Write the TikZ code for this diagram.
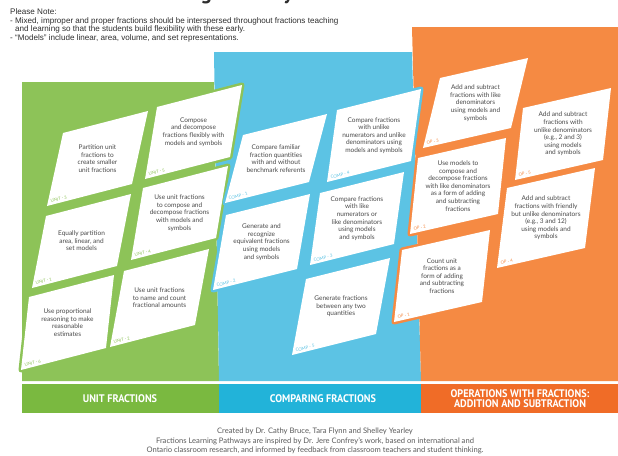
\documentclass[tikz,border=0pt]{standalone}
\usepackage{fontspec}
\setmainfont{Lato}
\newfontfamily\headfont{Liberation Sans}
\newfontfamily\titlefont{PT Sans}
\newfontfamily\barfont[FakeStretch=0.93]{PT Sans}
\usetikzlibrary{calc}
\definecolor{cUnit}{HTML}{8DC358}
\definecolor{cUnitBar}{HTML}{7AB940}
\definecolor{cComp}{HTML}{5CC3E4}
\definecolor{cCompBar}{HTML}{22B3D9}
\definecolor{cOper}{HTML}{F58A43}
\definecolor{cOperBar}{HTML}{F06C27}
\definecolor{cInk}{HTML}{4A4A4A}
\definecolor{cHead}{HTML}{2E2E2E}
\definecolor{cFoot}{HTML}{5A5A5A}

\begin{document}
\begin{tikzpicture}[x=1pt,y=-1pt]
  \tikzset{
    panel/.style={fill=#1},
    card/.style={fill=white, preaction={draw=#1, line width=5pt, line join=round}},
    txt/.style={align=center, inner sep=0pt, text=cInk, font=\fontsize{6.5}{7.6}\selectfont},
    tag/.style={anchor=south west, rotate=14, inner sep=0pt, text=#1, font=\fontsize{4.3}{5}\selectfont},
    barlbl/.style={align=center, text=white, inner sep=0pt, font=\barfont\bfseries\fontsize{11}{10}\selectfont},
  }
  \useasboundingbox (0,0) rectangle (618,455);
  % title, cut off by the top edge
  \node[anchor=base west, inner sep=0pt, text=cHead, font=\titlefont\bfseries\fontsize{21}{21}\selectfont]
    (title) at (46,-0.5) {Fractions Learning Pathways};
  % note
  \node[anchor=north west, align=left, inner sep=0pt, text=cHead, font=\headfont\fontsize{8.1}{8.7}\selectfont]
    (note) at (10,8.5) {Please Note:\\- Mixed, improper and proper fractions should be interspersed throughout fractions teaching\\\hspace{5pt}and learning so that the students build flexibility with these early.\\- “Models” include linear, area, volume, and set representations.};
  % panels
  \fill[panel=cUnit] (22,82) -- (214,82) -- (219,381) -- (22,381) -- cycle;
  \fill[panel=cComp] (214,52) -- (412,52) -- (421,381) -- (219,381) -- cycle;
  \fill[panel=cOper] (412,27) -- (618,27) -- (618,381) -- (421,381) -- cycle;
  % unit fractions
  \begin{scope}
    \foreach \n/\x/\y/\hx/\hy/\l/\t in {
      1/63/133/-16/73/3/{Partition unit\\fractions to\\create smaller\\unit fractions},
      2/157/107/-12/72/5/{Compose\\and decompose\\fractions flexibly with\\models and symbols},
      3/46/216/-14/72/1/{Equally partition\\area, linear, and\\set models},
      4/143/188/-12/72/4/{Use unit fractions\\to compose and\\decompose fractions\\with models and\\symbols},
      5/29/297/-8/73/6/{Use proportional\\reasoning to make\\reasonable\\estimates},
      6/124/271/-14/76/2/{Use unit fractions\\to name and count\\fractional amounts}} {
      \fill[card=cUnit] (\x,\y) -- ++(85,-22) -- ++(\hx,\hy) -- (\x+\hx,\y+\hy) -- cycle;
      \node[txt] (u\n) at (\x+42.5+\hx/2,\y-11+\hy/2) {\t};
      \node[tag=cUnit] (u\n tag) at (\x+\hx+4,\y+\hy-3) {UNIT - \l};
    }
  \end{scope}
  % comparing fractions
  \begin{scope}
    \foreach \n/\x/\y/\hx/\hy/\l/\t in {
      1/243/135/-18/68/1/{Compare familiar\\fraction quantities\\with and without\\benchmark referents},
      2/337/110/-10/72/4/{Compare fractions\\with unlike\\numerators and unlike\\denominators using\\models and symbols},
      3/226/215/-13/75/2/{Generate and\\recognize\\equivalent fractions\\using models\\and symbols},
      4/320/193/-10/72/3/{Compare fractions\\with like\\numerators or\\like denominators\\using models\\and symbols},
      5/306/279/-14/76/5/{Generate fractions\\between any two\\quantities}} {
      \fill[card=cComp] (\x,\y) -- ++(84,-21) -- ++(\hx,\hy) -- (\x+\hx,\y+\hy) -- cycle;
      \node[txt] (c\n) at (\x+42+\hx/2,\y-10.5+\hy/2) {\t};
      \node[tag=cComp] (c\n tag) at (\x+\hx+4,\y+\hy-3) {COMP - \l};
    }
  \end{scope}
  % operations with fractions
  \begin{scope}
    \foreach \n/\x/\y/\hx/\hy/\l/\t in {
      3/440/78/-17/70/3/{Add and subtract\\fractions with like\\denominators\\using models and\\symbols},
      5/523/108/-8/72/5/{Add and subtract\\fractions with\\unlike denominators\\(e.g., 2 and 3)\\using models\\and symbols},
      2/418/158/-8/76/2/{Use models to\\compose and\\decompose fractions\\with like denominators\\as a form of adding\\and subtracting\\fractions},
      4/507/188/-10/80/4/{Add and subtract\\fractions with friendly\\but unlike denominators\\(e.g., 3 and 12)\\using models and\\symbols},
      1/402/250/-8/72/1/{Count unit\\fractions as a\\form of adding\\and subtracting\\fractions}} {
      \fill[card=cOper] (\x,\y) -- ++(88,-20) -- ++(\hx,\hy) -- (\x+\hx,\y+\hy) -- cycle;
      \node[txt] (o\n) at (\x+44+\hx/2,\y-10+\hy/2) {\t};
      \node[tag=cOper] (o\n tag) at (\x+\hx+4,\y+\hy-3) {OP - \l};
    }
  \end{scope}
  % bars
  \fill[cUnitBar] (22,384) rectangle (219,413);
  \fill[cCompBar] (219,384) rectangle (421,413);
  \fill[cOperBar] (421,384) rectangle (618,413);
  \node[barlbl] (unitbar) at (120,398.5) {UNIT FRACTIONS};
  \node[barlbl] (compbar) at (323,398.5) {COMPARING FRACTIONS};
  \node[barlbl] (operbar) at (520,398.5) {OPERATIONS WITH FRACTIONS:\\ADDITION AND SUBTRACTION};
  % credits
  \node[align=center, inner sep=0pt, text=cFoot, font=\fontsize{7.6}{9.5}\selectfont] (credits) at (315,441)
    {Created by Dr. Cathy Bruce, Tara Flynn and Shelley Yearley\\Fractions Learning Pathways are inspired by Dr. Jere Confrey's work, based on international and\\Ontario classroom research, and informed by feedback from classroom teachers and student thinking.};
\end{tikzpicture}
\end{document}
